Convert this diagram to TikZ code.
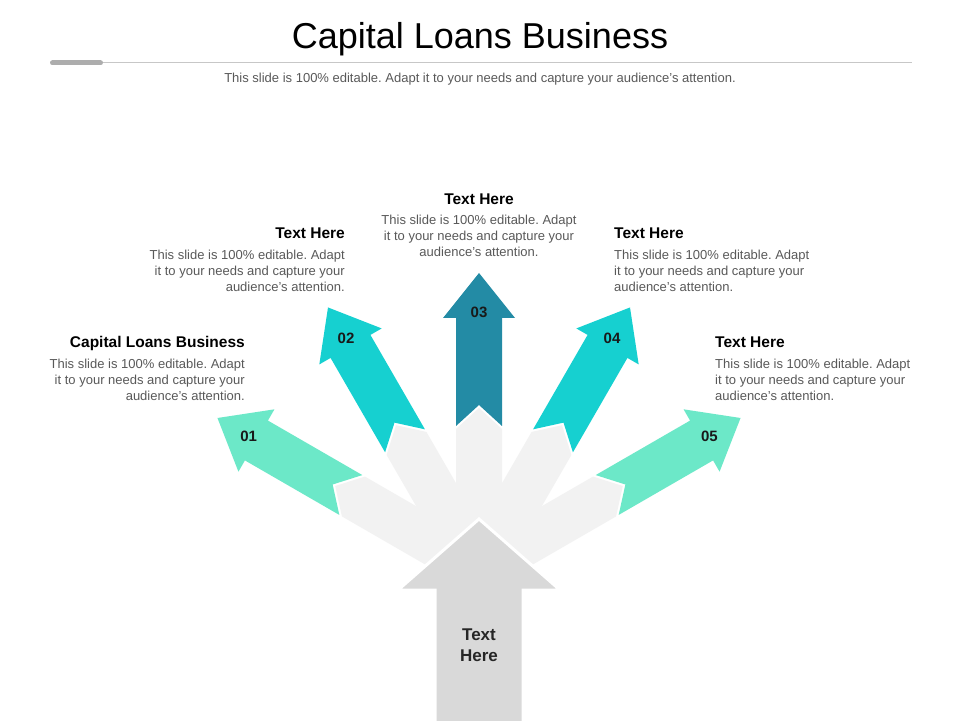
\documentclass[tikz,border=0pt]{standalone}
\usepackage{fontspec}
\setmainfont{Liberation Sans}
\usetikzlibrary{positioning}
\frenchspacing

\definecolor{mint}{HTML}{6CE8C8}
\definecolor{turq}{HTML}{16D0D0}
\definecolor{deepteal}{HTML}{238BA5}
\definecolor{shaftgray}{HTML}{F2F2F2}
\definecolor{basegray}{HTML}{D9D9D9}
\definecolor{bodygray}{HTML}{595959}

\tikzset{
	headtitle/.style={font=\fontsize{15.5}{18}\selectfont\bfseries, inner sep=0pt},
	bodytext/.style={font=\fontsize{13}{16}\selectfont, text=bodygray, inner sep=0pt},
	numlabel/.style={font=\fontsize{15}{17}\selectfont\bfseries, text=black!90, inner sep=0pt},
	shaft/.style={fill=shaftgray},
}

\begin{document}
\begin{tikzpicture}[x=1pt, y=1pt]
	\useasboundingbox (0,0) rectangle (960,720);
	\fill[white] (0,0) rectangle (960,720);

	% heading
	\node(title) [anchor=base, font=\fontsize{36}{40}\selectfont] at (480,671.7) {Capital Loans Business};
	\draw[black!22, line width=1pt] (50,657) -- (912,657);
	\draw[black!32, line width=5pt, line cap=round] (52.5,657) -- (100.5,657);
	\node(subtitle) [anchor=base, bodytext] at (480,637.7) {This slide is 100\% editable. Adapt it to your needs and capture your audience's attention.};

	% fan of arrows
	\begin{scope}[shift={(479,151)}, rotate=60]
		\fill[shaft] (-23,0) -- (-23,145) -- (0,166) -- (23,145) -- (23,0) -- cycle;
		\fill[mint] (-23,148) -- (0,169) -- (23,148) -- (23,257) -- (36,257) -- (0,302) -- (-36,257) -- (-23,257) -- cycle;
		\node(n01) [numlabel] at (0,266) {01};
	\end{scope}
	\begin{scope}[shift={(479,151)}, rotate=30]
		\fill[shaft] (-23,0) -- (-23,145) -- (0,166) -- (23,145) -- (23,0) -- cycle;
		\fill[turq] (-23,148) -- (0,169) -- (23,148) -- (23,257) -- (36,257) -- (0,302) -- (-36,257) -- (-23,257) -- cycle;
		\node(n02) [numlabel] at (0,266) {02};
	\end{scope}
	\begin{scope}[shift={(479,151)}]
		\fill[shaft] (-23,0) -- (-23,140) -- (0,161) -- (23,140) -- (23,0) -- cycle;
		\fill[deepteal] (-23,143) -- (0,164) -- (23,143) -- (23,251) -- (36,251) -- (0,296) -- (-36,251) -- (-23,251) -- cycle;
		\node(n03) [numlabel] at (0,257) {03};
	\end{scope}
	\begin{scope}[shift={(479,151)}, rotate=-30]
		\fill[shaft] (-23,0) -- (-23,145) -- (0,166) -- (23,145) -- (23,0) -- cycle;
		\fill[turq] (-23,148) -- (0,169) -- (23,148) -- (23,257) -- (36,257) -- (0,302) -- (-36,257) -- (-23,257) -- cycle;
		\node(n04) [numlabel] at (0,266) {04};
	\end{scope}
	\begin{scope}[shift={(479,151)}, rotate=-60]
		\fill[shaft] (-23,0) -- (-23,145) -- (0,166) -- (23,145) -- (23,0) -- cycle;
		\fill[mint] (-23,148) -- (0,169) -- (23,148) -- (23,257) -- (36,257) -- (0,302) -- (-36,257) -- (-23,257) -- cycle;
		\node(n05) [numlabel] at (0,266) {05};
	\end{scope}

	% base arrow
	\filldraw[fill=basegray, draw=white, line width=3pt] (435,-5) -- (435,130) -- (398,130) -- (479,201) -- (560,130) -- (523,130) -- (523,-5) -- cycle;
	\node(base) [align=center, font=\fontsize{17}{21}\selectfont\bfseries, text=black!85] at (479,75) {Text\\Here};

	% text blocks
	\node(t1) [headtitle, anchor=base east] at (245,372) {Capital Loans Business};
	\node(b1) [bodytext, align=right, below left=10.5pt and 0pt of t1.base east] {This slide is 100\% editable. Adapt\\it to your needs and capture your\\audience's attention.};

	\node(t2) [headtitle, anchor=base east] at (345,481) {Text Here};
	\node(b2) [bodytext, align=right, below left=10.5pt and 0pt of t2.base east] {This slide is 100\% editable. Adapt\\it to your needs and capture your\\audience's attention.};

	\node(t3) [headtitle, anchor=base] at (479,515.3) {Text Here};
	\node(b3) [bodytext, align=center, below=10.5pt of t3.base] {This slide is 100\% editable. Adapt\\it to your needs and capture your\\audience's attention.};

	\node(t4) [headtitle, anchor=base west] at (614,481) {Text Here};
	\node(b4) [bodytext, align=left, below right=10.5pt and 0pt of t4.base west] {This slide is 100\% editable. Adapt\\it to your needs and capture your\\audience's attention.};

	\node(t5) [headtitle, anchor=base west] at (715,372) {Text Here};
	\node(b5) [bodytext, align=left, below right=10.5pt and 0pt of t5.base west] {This slide is 100\% editable. Adapt\\it to your needs and capture your\\audience's attention.};
\end{tikzpicture}
\end{document}
